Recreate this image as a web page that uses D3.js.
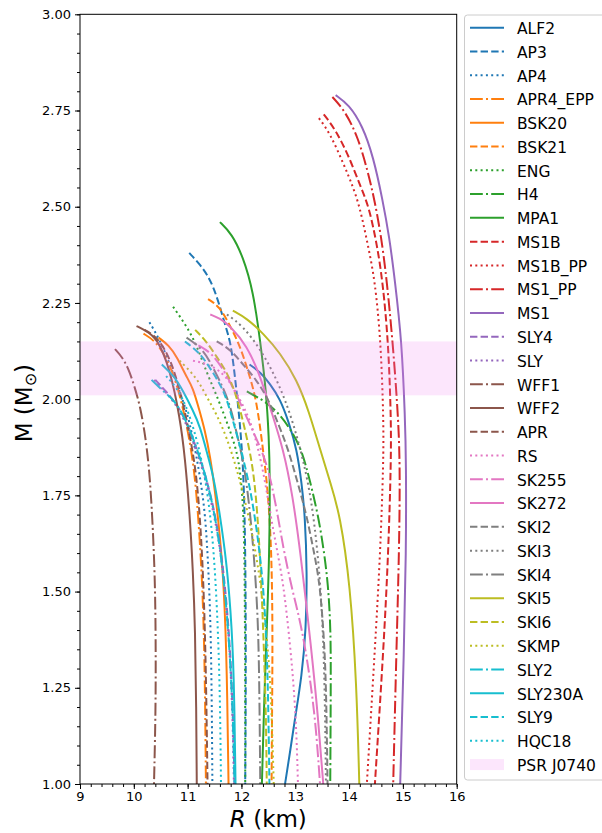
<!DOCTYPE html>
<html>
<head>
<meta charset="utf-8">
<script src="https://cdn.jsdelivr.net/npm/d3@7.9.0/dist/d3.min.js"></script>
<style>
  body { margin: 0; background: #fff; }
  text { font-family: "DejaVu Sans", sans-serif; }
</style>
</head>
<body>
<svg id="chart" width="602" height="833"></svg>
<script>
// ---- mass-radius curves: [R (km), M (Msun)] ----
const ALF2 = [[12.15,2.09],[12.35,2.07],[12.53,2.04],[12.72,2.0],[12.88,1.94],[13.03,1.87],[13.12,1.78],[13.18,1.7],[13.22,1.55],[13.2,1.4],[13.12,1.28],[13.0,1.175],[12.9,1.08],[12.81,1.0]];
const AP3 = [[11.03,2.38],[11.23,2.35],[11.38,2.32],[11.48,2.29],[11.58,2.25],[11.66,2.21],[11.75,2.17],[11.82,2.13],[11.91,2.02],[11.97,1.94],[12.03,1.83],[12.06,1.7],[12.08,1.5],[12.08,1.2],[12.07,1.0]];
const AP4 = [[10.29,2.2],[10.5,2.15],[10.7,2.08],[10.85,2.02],[10.98,1.97],[11.1,1.9],[11.23,1.8],[11.33,1.7],[11.39,1.55],[11.43,1.4],[11.45,1.2],[11.46,1.0]];
const APR4_EPP = [[10.18,2.17],[10.42,2.15],[10.68,2.09],[10.88,2.0],[11.03,1.9],[11.14,1.8],[11.22,1.65],[11.28,1.5],[11.32,1.3],[11.34,1.0]];
const BSK20 = [[10.46,2.16],[10.65,2.14],[10.8,2.11],[10.97,2.06],[11.1,2.03],[11.22,1.97],[11.32,1.92],[11.42,1.85],[11.5,1.77],[11.6,1.65],[11.68,1.5],[11.73,1.3],[11.76,1.0]];
const BSK21 = [[11.38,2.26],[11.6,2.24],[11.79,2.19],[11.97,2.14],[12.13,2.07],[12.28,2.0],[12.41,1.86],[12.5,1.75],[12.56,1.6],[12.58,1.4],[12.57,1.2],[12.56,1.0]];
const ENG = [[10.73,2.24],[10.98,2.19],[11.17,2.14],[11.35,2.07],[11.54,2.01],[11.73,1.94],[11.91,1.87],[11.99,1.8],[12.04,1.7],[12.06,1.55],[12.07,1.3],[12.07,1.0]];
const H4 = [[12.1,2.02],[12.44,1.995],[12.72,1.96],[12.94,1.915],[13.12,1.868],[13.27,1.79],[13.43,1.695],[13.53,1.608],[13.61,1.52],[13.66,1.4],[13.66,1.26],[13.655,1.11],[13.65,1.0]];
const MPA1 = [[11.6,2.46],[11.82,2.43],[12.03,2.37],[12.22,2.28],[12.35,2.15],[12.46,2.02],[12.51,1.9],[12.53,1.8],[12.52,1.6],[12.47,1.4],[12.43,1.25],[12.38,1.0]];
const MS1B = [[13.53,2.74],[13.75,2.7],[14.0,2.63],[14.22,2.55],[14.37,2.5],[14.52,2.4],[14.62,2.31],[14.73,2.15],[14.78,1.95],[14.78,1.84],[14.73,1.6],[14.64,1.35],[14.48,1.0]];
const MS1B_PP = [[13.44,2.73],[13.65,2.69],[13.9,2.61],[14.05,2.56],[14.2,2.5],[14.35,2.4],[14.48,2.31],[14.59,2.15],[14.64,1.95],[14.64,1.84],[14.58,1.6],[14.48,1.35],[14.33,1.0]];
const MS1_PP = [[13.69,2.785],[13.92,2.75],[14.17,2.68],[14.35,2.59],[14.47,2.52],[14.6,2.42],[14.7,2.31],[14.81,2.15],[14.9,1.98],[14.95,1.84],[14.93,1.6],[14.88,1.35],[14.82,1.0]];
const MS1 = [[13.75,2.79],[14.0,2.765],[14.25,2.71],[14.45,2.63],[14.62,2.52],[14.75,2.42],[14.85,2.31],[14.98,2.15],[15.04,1.95],[15.06,1.84],[15.06,1.6],[15.02,1.35],[14.95,1.0]];
const SLY4 = [[10.4,2.05],[10.6,2.02],[10.78,1.99],[10.95,1.95],[11.12,1.89],[11.32,1.81],[11.5,1.71],[11.63,1.6],[11.74,1.45],[11.81,1.3],[11.85,1.15],[11.87,1.0]];
const SLY = [[10.38,2.05],[10.58,2.02],[10.76,1.99],[10.93,1.95],[11.1,1.89],[11.3,1.81],[11.48,1.71],[11.62,1.6],[11.73,1.45],[11.8,1.3],[11.84,1.15],[11.86,1.0]];
const WFF1 = [[9.65,2.13],[9.78,2.11],[9.9,2.08],[10.02,2.03],[10.12,1.98],[10.22,1.9],[10.3,1.8],[10.36,1.65],[10.4,1.5],[10.41,1.3],[10.4,1.15],[10.375,1.0]];
const WFF2 = [[10.05,2.19],[10.2,2.18],[10.43,2.16],[10.67,2.08],[10.86,1.95],[10.95,1.85],[11.04,1.7],[11.1,1.55],[11.14,1.4],[11.16,1.2],[11.17,1.0]];
const APR = [[10.2,2.18],[10.45,2.16],[10.7,2.1],[10.9,2.0],[11.05,1.9],[11.17,1.8],[11.25,1.65],[11.3,1.5],[11.34,1.3],[11.37,1.0]];
const RS = [[11.1,2.1],[11.42,2.09],[11.73,2.06],[11.97,2.0],[12.15,1.95],[12.3,1.88],[12.45,1.78],[12.55,1.69],[12.7,1.58],[12.8,1.5],[12.95,1.3],[13.02,1.15],[13.05,1.0]];
const SK255 = [[11.2,2.14],[11.45,2.12],[11.7,2.07],[11.95,2.0],[12.2,1.92],[12.47,1.84],[12.65,1.72],[12.78,1.61],[12.95,1.5],[13.1,1.42],[13.25,1.3],[13.38,1.16],[13.46,1.0]];
const SK272 = [[11.42,2.22],[11.6,2.21],[11.79,2.19],[12.1,2.14],[12.35,2.06],[12.55,1.97],[12.78,1.87],[12.95,1.75],[13.09,1.61],[13.3,1.35],[13.42,1.18],[13.52,1.0]];
const SKI2 = [[11.54,2.15],[11.79,2.13],[12.03,2.09],[12.28,2.05],[12.5,2.0],[12.7,1.93],[12.87,1.87],[13.05,1.78],[13.21,1.7],[13.35,1.6],[13.46,1.52],[13.55,1.35],[13.58,1.2],[13.6,1.0]];
const SKI3 = [[11.73,2.22],[12.03,2.19],[12.35,2.13],[12.59,2.07],[12.81,2.0],[13.0,1.92],[13.15,1.84],[13.3,1.74],[13.42,1.6],[13.5,1.45],[13.55,1.25],[13.57,1.0]];
const SKI4 = [[10.98,2.16],[11.29,2.13],[11.48,2.08],[11.66,2.03],[11.8,1.98],[11.93,1.9],[12.05,1.83],[12.15,1.72],[12.23,1.6],[12.3,1.45],[12.33,1.3],[12.35,1.0]];
const SKI5 = [[11.84,2.23],[12.1,2.21],[12.41,2.17],[12.72,2.12],[13.03,2.05],[13.25,1.97],[13.46,1.87],[13.66,1.78],[13.83,1.7],[14.02,1.52],[14.14,1.26],[14.19,1.0]];
const SKI6 = [[11.14,2.18],[11.35,2.15],[11.54,2.11],[11.73,2.07],[11.88,2.02],[12.0,1.96],[12.1,1.9],[12.22,1.82],[12.3,1.7],[12.36,1.55],[12.42,1.35],[12.46,1.15],[12.47,1.0]];
const SKMP = [[10.85,2.1],[11.07,2.07],[11.23,2.04],[11.38,2.0],[11.54,1.96],[11.73,1.9],[11.91,1.82],[12.1,1.72],[12.3,1.58],[12.45,1.42],[12.55,1.25],[12.6,1.0]];
const SLY2 = [[10.33,2.05],[10.55,2.02],[10.73,2.0],[10.92,1.96],[11.1,1.9],[11.3,1.82],[11.48,1.72],[11.62,1.6],[11.73,1.45],[11.8,1.3],[11.85,1.15],[11.87,1.0]];
const SLY230A = [[10.52,2.09],[10.75,2.06],[10.92,2.02],[11.1,1.97],[11.23,1.93],[11.38,1.85],[11.48,1.8],[11.6,1.7],[11.72,1.58],[11.8,1.45],[11.86,1.3],[11.89,1.0]];
const SLY9 = [[10.95,2.15],[11.23,2.12],[11.42,2.08],[11.6,2.04],[11.73,2.0],[11.85,1.94],[11.97,1.88],[12.15,1.78],[12.3,1.65],[12.42,1.5],[12.49,1.3],[12.52,1.0]];
const HQC18 = [[10.6,2.06],[10.8,2.03],[10.98,1.98],[11.12,1.92],[11.25,1.85],[11.38,1.75],[11.48,1.62],[11.55,1.45],[11.6,1.25],[11.62,1.0]];

const eosNames = ['ALF2','AP3','AP4','APR4_EPP','BSK20','BSK21','ENG','H4','MPA1','MS1B','MS1B_PP','MS1_PP','MS1','SLY4','SLY','WFF1','WFF2','APR','RS','SK255','SK272','SKI2','SKI3','SKI4','SKI5','SKI6','SKMP','SLY2','SLY230A','SLY9','HQC18'];
const eosCurves = [ALF2,AP3,AP4,APR4_EPP,BSK20,BSK21,ENG,H4,MPA1,MS1B,MS1B_PP,MS1_PP,MS1,SLY4,SLY,WFF1,WFF2,APR,RS,SK255,SK272,SKI2,SKI3,SKI4,SKI5,SKI6,SKMP,SLY2,SLY230A,SLY9,HQC18];

// PSR J0740+6620 mass band
const psrLabel = 'PSR J0740';
const psrMass = [2.01, 2.15];

const xTicks = [9, 10, 11, 12, 13, 14, 15, 16];
const yTicks = [1.00, 1.25, 1.50, 1.75, 2.00, 2.25, 2.50, 2.75, 3.00];

// ---- styles ----
const tab = ['#1f77b4','#ff7f0e','#2ca02c','#d62728','#9467bd','#8c564b','#e377c2','#7f7f7f','#bcbd22','#17becf'];
const colorIdx = [0,0,0,1,1,1,2,2,2,3,3,3,4,4,4,5,5,5,6,6,6,7,7,7,8,8,8,9,9,9,9];
const styleCycle = ['-','--',':','-.'];
const dashes = { '-': null, '--': '7.4,3.2', ':': '2,3.3', '-.': '12.8,3.2,2,3.2' };

const width = 602, height = 833;
const margin = { left: 80, right: 602 - 456.7, top: 14.3, bottom: 833 - 784 };

const svg = d3.select('#chart');

const x = d3.scaleLinear().domain([9, 16]).range([margin.left, width - margin.right]);
const y = d3.scaleLinear().domain([1, 3]).range([height - margin.bottom, margin.top]);

svg.append('defs').append('clipPath').attr('id', 'plot-clip')
  .append('rect')
  .attr('x', x(9)).attr('y', y(3))
  .attr('width', x(16) - x(9)).attr('height', y(1) - y(3));

const plot = svg.append('g').attr('clip-path', 'url(#plot-clip)');

// smooth spline through the read-off points
const line = d3.line()
  .x(d => x(d[0]))
  .y(d => y(d[1]))
  .curve(d3.curveBasis);

eosCurves.forEach((pts, i) => {
  plot.append('path')
    .attr('d', line(pts))
    .attr('fill', 'none')
    .attr('stroke', tab[colorIdx[i]])
    .attr('stroke-width', 2)
    .attr('stroke-dasharray', dashes[styleCycle[i % 4]])
    .attr('stroke-linejoin', 'round');
});

// mass band on top (translucent)
plot.append('rect')
  .attr('x', x(9)).attr('width', x(16) - x(9))
  .attr('y', y(psrMass[1])).attr('height', y(psrMass[0]) - y(psrMass[1]))
  .attr('fill', 'violet').attr('fill-opacity', 0.2);

// ---- axes ----
svg.append('g').attr('transform', `translate(0,${y(1)})`)
  .call(d3.axisBottom(x).tickValues(xTicks).tickSize(5).tickPadding(3).tickFormat(d3.format('d')));
svg.append('g').attr('transform', `translate(0,${y(1)})`)
  .call(d3.axisBottom(x).tickValues(d3.range(9, 16.001, 0.2)).tickSize(3).tickFormat(''));
svg.append('g').attr('transform', `translate(${x(9)},0)`)
  .call(d3.axisLeft(y).tickValues(yTicks).tickSize(5).tickPadding(4).tickFormat(d3.format('.2f')));
svg.append('g').attr('transform', `translate(${x(9)},0)`)
  .call(d3.axisLeft(y).tickValues(d3.range(1, 3.001, 0.05)).tickSize(3).tickFormat(''));

svg.selectAll('.domain').remove();
svg.selectAll('.tick line').attr('stroke', '#000').attr('stroke-width', 1);
svg.selectAll('.tick text').attr('font-size', 13).attr('fill', '#000')
  .attr('font-family', '"DejaVu Sans", sans-serif');

svg.append('rect')
  .attr('x', x(9)).attr('y', y(3))
  .attr('width', x(16) - x(9)).attr('height', y(1) - y(3))
  .attr('fill', 'none').attr('stroke', '#000').attr('stroke-width', 1);

// axis labels
const xl = svg.append('text')
  .attr('x', (x(9) + x(16)) / 2).attr('y', 826.5)
  .attr('text-anchor', 'middle').attr('font-size', 23);
xl.append('tspan').attr('font-style', 'italic').text('R');
xl.append('tspan').text(' (km)');

const yl = svg.append('text')
  .attr('transform', `translate(32,${(y(1) + y(3)) / 2 + 4}) rotate(-90)`)
  .attr('text-anchor', 'middle').attr('font-size', 23);
yl.append('tspan').text('M (M');
yl.append('tspan').attr('font-size', 16).attr('dy', 4).text('\u2299');
yl.append('tspan').attr('dy', -4).text(')');

// ---- legend ----
const lg = svg.append('g');
lg.append('rect')
  .attr('x', 464.5).attr('y', 15).attr('width', 150).attr('height', 765)
  .attr('rx', 3).attr('fill', '#fff').attr('fill-opacity', 0.8)
  .attr('stroke', '#cccccc').attr('stroke-width', 1);

const rowY = i => 27.7 + i * 23.77;
eosNames.forEach((name, i) => {
  lg.append('line')
    .attr('x1', 470).attr('x2', 504)
    .attr('y1', rowY(i)).attr('y2', rowY(i))
    .attr('stroke', tab[colorIdx[i]]).attr('stroke-width', 2)
    .attr('stroke-dasharray', dashes[styleCycle[i % 4]]);
  lg.append('text')
    .attr('x', 517).attr('y', rowY(i) + 6.3)
    .attr('font-size', 15.5).text(name);
});
const pi = eosNames.length;
lg.append('rect')
  .attr('x', 470).attr('width', 34)
  .attr('y', rowY(pi) - 5.5).attr('height', 11)
  .attr('fill', 'violet').attr('fill-opacity', 0.2);
lg.append('text')
  .attr('x', 517).attr('y', rowY(pi) + 6.3)
  .attr('font-size', 15.5).text(psrLabel);
</script>
</body>
</html>
